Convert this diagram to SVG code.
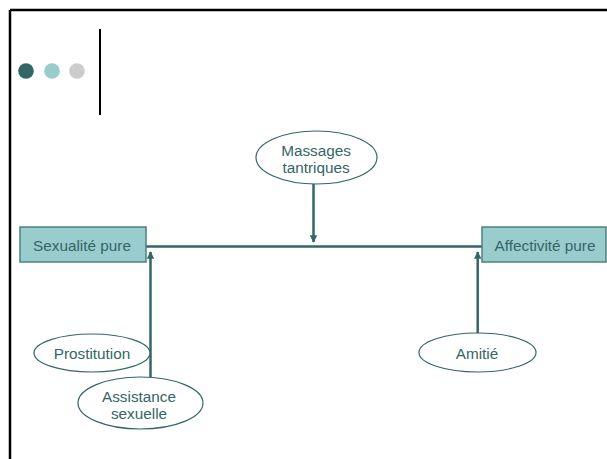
<svg xmlns="http://www.w3.org/2000/svg" width="607" height="459" viewBox="0 0 607 459">
<style>
text{font-family:"Liberation Sans",Arial,sans-serif;font-size:15.3px;fill:#336666;text-anchor:middle}
.box{fill:#99CCCC;stroke:#4D8080;stroke-width:1.5}
.ell{fill:#fff;stroke:#336666;stroke-width:1.2}
.con{stroke:#336666;stroke-width:2.5;fill:none}
</style>
<defs>
<marker id="ah" viewBox="0 0 10 10" refX="9" refY="5" markerWidth="3" markerHeight="3" orient="auto" markerUnits="strokeWidth">
<path d="M0,0L10,5L0,10z" fill="#336666"/>
</marker>
</defs>
<rect width="607" height="459" fill="#fff"/>
<g id="frame" stroke="#000" stroke-width="2.5">
<line x1="10" y1="10" x2="607" y2="10"/>
<line x1="10" y1="10" x2="10" y2="459"/>
<line x1="100" y1="29" x2="100" y2="115" stroke-width="2"/>
</g>
<g id="dots">
<circle cx="26" cy="71" r="7.8" fill="#336666"/>
<circle cx="52" cy="71" r="7.8" fill="#99CCCC"/>
<circle cx="77" cy="71" r="7.8" fill="#CCCCCC"/>
</g>
<g id="connectors">
<line class="con" x1="146" y1="246.5" x2="482" y2="246.5"/>
<line class="con" x1="313.5" y1="184" x2="313.5" y2="242" marker-end="url(#ah)"/>
<line class="con" x1="150.5" y1="377" x2="150.5" y2="252" marker-end="url(#ah)"/>
<line class="con" x1="477.7" y1="333" x2="477.7" y2="252" marker-end="url(#ah)"/>
</g>
<g id="sexualite">
<rect class="box" x="20" y="227" width="126" height="35"/>
<text x="82" y="250.5">Sexualité pure</text>
</g>
<g id="affectivite">
<rect class="box" x="482" y="227" width="124" height="35"/>
<text x="545" y="250.5">Affectivité pure</text>
</g>
<g id="massages">
<ellipse class="ell" cx="316.5" cy="157.5" rx="60.5" ry="26.5"/>
<text x="316" y="155.5">Massages</text>
<text x="316" y="172.5">tantriques</text>
</g>
<g id="prostitution">
<ellipse class="ell" cx="92" cy="353" rx="58" ry="19"/>
<text x="92" y="358.5">Prostitution</text>
</g>
<g id="assistance">
<ellipse class="ell" cx="140.5" cy="403" rx="62.5" ry="26"/>
<text x="139" y="401.5">Assistance</text>
<text x="139" y="418.5">sexuelle</text>
</g>
<g id="amitie">
<ellipse class="ell" cx="477.5" cy="352.5" rx="58.5" ry="19.5"/>
<text x="477" y="358.5">Amitié</text>
</g>
</svg>
